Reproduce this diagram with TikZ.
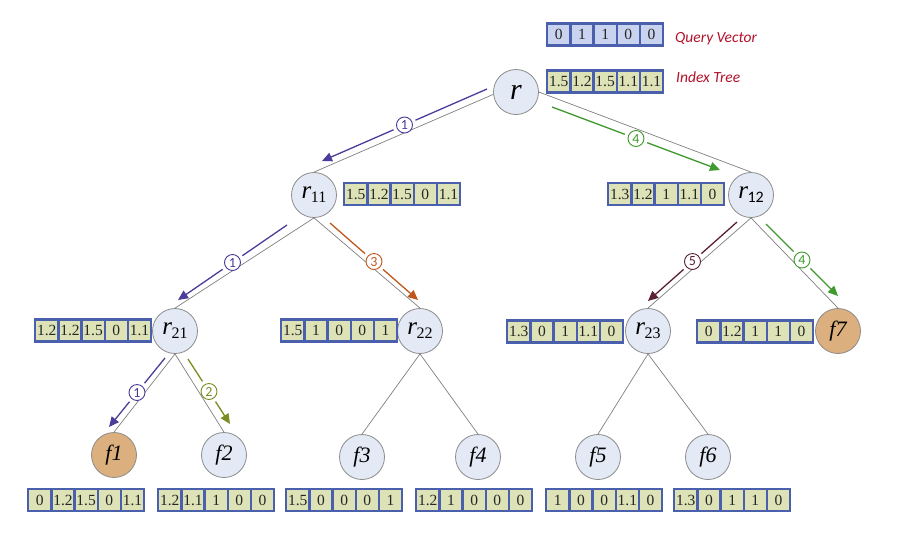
\documentclass[tikz,border=0pt]{standalone}
\usepackage{fontspec}
\setmainfont{Liberation Serif}
\newfontfamily\serifnum{Liberation Serif}
\newfontfamily\lblfont{Carlito}
\usetikzlibrary{arrows.meta,calc}

\definecolor{cellfill}{HTML}{DDE3B6}
\definecolor{qfill}{HTML}{C9D3EF}
\definecolor{cellborder}{HTML}{4A60AC}
\definecolor{nodefill}{HTML}{E4EAF5}
\definecolor{nodeborder}{HTML}{8C8C8C}
\definecolor{leaforange}{HTML}{DBB07E}
\definecolor{edgegray}{HTML}{808080}
\definecolor{cpurple}{HTML}{4B3E9B}
\definecolor{cgreen}{HTML}{3F9B2D}
\definecolor{corange}{HTML}{C0581E}
\definecolor{cmaroon}{HTML}{5B2233}
\definecolor{colive}{HTML}{7C8B22}
\definecolor{labred}{HTML}{B3122C}

\newcommand\cellrow[5]{%
  \foreach \v [count=\i from 0] in {#5} {\node[#4] (#1-\i) at ({#2+23.2*\i}, #3) {\v};}}
\newcommand\flowpath[5]{%
  \coordinate (#5) at ($(#2)!0.5!(#3)$);
  \draw[flowline=#1] (#2) -- ($(#5)!12pt!(#2)$);
  \draw[flowarr=#1] ($(#5)!12pt!(#3)$) -- (#3);
  \node[numlab=#1] (#5-lab) at (#5) {#4};}
\newcommand\rlab[1]{{\serifnum\fontsize{25}{25}\selectfont\itshape r}\kern-0.5pt\raisebox{-4pt}{\serifnum\fontsize{16}{16}\selectfont #1}}
\newcommand\flab[1]{{\serifnum\fontsize{22}{22}\selectfont\itshape #1}}

\begin{document}
\begin{tikzpicture}[x=1pt,y=-1pt,
  tnode/.style={circle, minimum size=45pt, inner sep=0pt, fill=nodefill, draw=nodeborder, line width=0.8pt},
  leaf/.style={tnode, fill=leaforange},
  cell/.style={draw=cellborder, line width=2.3pt, fill=cellfill, minimum width=23.2pt, minimum height=22pt, inner sep=0pt, anchor=west, font=\serifnum\fontsize{15.5}{15.5}\selectfont, text=black!85},
  qcell/.style={cell, fill=qfill},
  treeline/.style={draw=edgegray, line width=0.7pt},
  flowline/.style={draw=#1, line width=1.3pt},
  flowarr/.style={draw=#1, fill=#1, line width=1.3pt, -{Triangle[length=10pt,width=9pt]}},
  numlab/.style={circle, draw=#1, text=#1, fill=white, line width=0.9pt, minimum size=16pt, inner sep=0pt, font=\lblfont\fontsize{14}{14}\selectfont},
  tag/.style={text=labred, font=\lblfont\itshape\fontsize{15.5}{15.5}\selectfont, anchor=west, inner sep=0pt}
]
\useasboundingbox[fill=white] (0,0) rectangle (914,550);

% tree nodes
\node[tnode] (r) at (516,92) {{\serifnum\fontsize{30}{30}\selectfont\itshape r}};
\node[tnode] (r11) at (314,195) {\rlab{11}};
\node[tnode] (r12) at (751,195) {\rlab{\lblfont 12}};
\node[tnode] (r21) at (175,331) {\rlab{21}};
\node[tnode] (r22) at (420,331) {\rlab{22}};
\node[tnode] (r23) at (648,331) {\rlab{23}};
\node[leaf]  (f7) at (838,331) {\flab{f7}};
\node[leaf]  (f1) at (114,455) {\flab{f1}};
\node[tnode] (f2) at (224,455) {\flab{f2}};
\node[tnode] (f3) at (362,457) {\flab{f3}};
\node[tnode] (f4) at (478,457) {\flab{f4}};
\node[tnode] (f5) at (598,457) {\flab{f5}};
\node[tnode] (f6) at (708,457) {\flab{f6}};

% tree edges
\draw[treeline] (r.186) -- (r11.north);
\draw[treeline] (r.east) -- (r12.north);
\draw[treeline] (r11.south) -- (r21.north);
\draw[treeline] (r11.south) -- (r22.north);
\draw[treeline] (r12.south) -- (r23.north);
\draw[treeline] (r12.south) -- (f7.north);
\draw[treeline] (r21.south) -- (f1.north);
\draw[treeline] (r21.south) -- (f2.north);
\draw[treeline] (r22.south) -- (f3.north);
\draw[treeline] (r22.south) -- (f4.north);
\draw[treeline] (r23.south) -- (f5.north);
\draw[treeline] (r23.south) -- (f6.north);

% search flow arrows
\coordinate (a1s) at (487,89);  \coordinate (a1e) at (322,161);
\coordinate (a2s) at (552,107); \coordinate (a2e) at (720,170);
\coordinate (a3s) at (287,225); \coordinate (a3e) at (178,300);
\coordinate (a4s) at (330,223); \coordinate (a4e) at (418,300);
\coordinate (a5s) at (737,222); \coordinate (a5e) at (648,301);
\coordinate (a6s) at (766,224); \coordinate (a6e) at (838,296);
\coordinate (a7s) at (165,358); \coordinate (a7e) at (109,427);
\coordinate (a8s) at (188,359); \coordinate (a8e) at (230,424);
\flowpath{cpurple}{a1s}{a1e}{1}{m1}
\flowpath{cgreen}{a2s}{a2e}{4}{m2}
\flowpath{cpurple}{a3s}{a3e}{1}{m3}
\flowpath{corange}{a4s}{a4e}{3}{m4}
\flowpath{cmaroon}{a5s}{a5e}{5}{m5}
\flowpath{cgreen}{a6s}{a6e}{4}{m6}
\flowpath{cpurple}{a7s}{a7e}{1}{m7}
\flowpath{colive}{a8s}{a8e}{2}{m8}

% vectors
\cellrow{qv}{546}{34.5}{qcell}{0,1,1,0,0}
\cellrow{rv}{546}{81.5}{cell}{1.5,1.2,1.5,1.1,1.1}
\cellrow{r11v}{343}{194}{cell}{1.5,1.2,1.5,0,1.1}
\cellrow{r12v}{607}{194}{cell}{1.3,1.2,1,1.1,0}
\cellrow{r21v}{34}{330.5}{cell}{1.2,1.2,1.5,0,1.1}
\cellrow{r22v}{280}{330.5}{cell}{1.5,1,0,0,1}
\cellrow{r23v}{506}{331.5}{cell}{1.3,0,1,1.1,0}
\cellrow{f7v}{696}{331.5}{cell}{0,1.2,1,1,0}
\cellrow{f1v}{27}{500}{cell}{0,1.2,1.5,0,1.1}
\cellrow{f2v}{157}{500}{cell}{1.2,1.1,1,0,0}
\cellrow{f3v}{285}{500}{cell}{1.5,0,0,0,1}
\cellrow{f4v}{415}{500}{cell}{1.2,1,0,0,0}
\cellrow{f5v}{545}{500}{cell}{1,0,0,1.1,0}
\cellrow{f6v}{673}{500}{cell}{1.3,0,1,1,0}

% tags
\node[tag] (qtag) at (675,39) {Query Vector};
\node[tag] (itag) at (676,77) {Index Tree};
\end{tikzpicture}
\end{document}
